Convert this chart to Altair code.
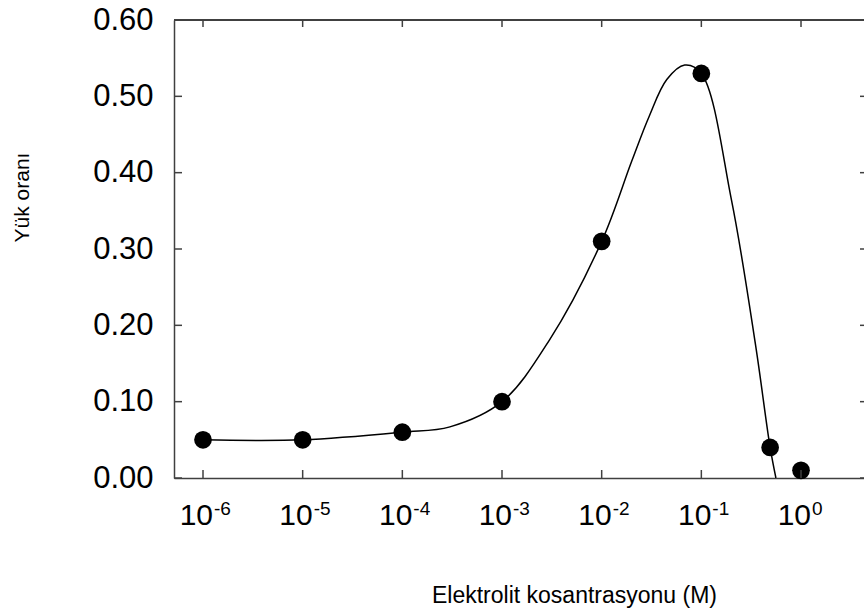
import altair as alt
import pandas as pd

# measured points
conc = [1e-6, 1e-5, 1e-4, 1e-3, 1e-2, 1e-1, 0.49, 1.0]
ratio = [0.05, 0.05, 0.06, 0.10, 0.31, 0.53, 0.04, 0.01]

# fitted curve
curve_x = [1e-6, 1e-5, 1e-4, 3e-4, 1e-3, 3e-3, 1e-2, 0.02, 0.03, 0.045, 0.068, 0.1,
           0.2, 0.35, 0.49, 0.56]
curve_y = [0.05, 0.05, 0.06, 0.067, 0.10, 0.181, 0.31, 0.415, 0.474, 0.522, 0.541, 0.53,
           0.365, 0.174, 0.04, 0.0]

xtick_vals = [1e-6, 1e-5, 1e-4, 1e-3, 1e-2, 1e-1, 1e0]
xtick_exp = ["-6", "-5", "-4", "-3", "-2", "-1", "0"]
ytick_vals = [0.0, 0.1, 0.2, 0.3, 0.4, 0.5, 0.6]

pts = pd.DataFrame({"c": conc, "r": ratio})
crv = pd.DataFrame({"c": curve_x, "r": curve_y})
xt = pd.DataFrame({"c": xtick_vals, "e": xtick_exp, "b": ["10"] * len(xtick_vals)})
yt = pd.DataFrame({"r": ytick_vals})

W, H = 690, 458
FONT = "Liberation Sans"
AX = "#404040"

xscale = alt.Scale(type="log", domain=[10 ** -6.291, 10 ** 0.632], nice=False)
yscale = alt.Scale(domain=[0, 0.6], nice=False, zero=False)

xenc = alt.X("c:Q", scale=xscale, axis=alt.Axis(
    title="Elektrolit kosantrasyonu (M)", labels=False, ticks=False, tickSize=0,
    grid=False, domainColor=AX, domainWidth=1.5,
    titleFont=FONT, titleFontSize=23, titleFontWeight="normal", titleColor="black",
    titleX=400, titleY=124, titleAnchor="middle", titleAlign="center",
    titleBaseline="alphabetic"))
yenc = alt.Y("r:Q", scale=yscale, axis=alt.Axis(
    title="Yük oranı", values=ytick_vals, format=".2f", ticks=False, tickSize=0,
    labelPadding=21, labelFont=FONT, labelFontSize=31, labelColor="black",
    grid=False, domainColor=AX, domainWidth=1.5,
    titleFont=FONT, titleFontSize=21, titleFontWeight="normal", titleColor="black",
    titleX=-152, titleY=177, titleAngle=270, titleAlign="center",
    titleBaseline="middle"))

line = alt.Chart(crv).mark_line(color="black", strokeWidth=1.5,
                                interpolate="catmull-rom", clip=True).encode(x=xenc, y=yenc)
dots = alt.Chart(pts).mark_circle(color="black", size=314, opacity=1).encode(
    x=alt.X("c:Q", scale=xscale), y=alt.Y("r:Q", scale=yscale))

top_line = alt.Chart(pts).mark_rule(color=AX, strokeWidth=1.5).encode(
    x=alt.value(0), x2=alt.value(W), y=alt.value(0))

bt = alt.Chart(xt).mark_rule(color=AX, strokeWidth=1.5).encode(
    x=alt.X("c:Q", scale=xscale), y=alt.value(H - 8), y2=alt.value(H))
tt = alt.Chart(xt).mark_rule(color=AX, strokeWidth=1.5).encode(
    x=alt.X("c:Q", scale=xscale), y=alt.value(0), y2=alt.value(7))
lt = alt.Chart(yt).mark_rule(color=AX, strokeWidth=1.5).encode(
    y=alt.Y("r:Q", scale=yscale), x=alt.value(0), x2=alt.value(8))
rt = alt.Chart(yt).mark_rule(color=AX, strokeWidth=1.5).encode(
    y=alt.Y("r:Q", scale=yscale), x=alt.value(W - 4), x2=alt.value(W + 4))

base_lbl = alt.Chart(xt).mark_text(font=FONT, fontSize=30, align="right",
                                   baseline="alphabetic", dx=10, color="black").encode(
    x=alt.X("c:Q", scale=xscale), y=alt.value(H + 47), text="b:N")
exp_lbl = alt.Chart(xt).mark_text(font=FONT, fontSize=19, align="left",
                                  baseline="alphabetic", dx=11, color="black").encode(
    x=alt.X("c:Q", scale=xscale), y=alt.value(H + 37), text="e:N")

chart = alt.layer(line, dots, top_line, bt, tt, lt, rt, base_lbl, exp_lbl).properties(
    width=W, height=H,
    autosize=alt.AutoSizeParams(type="none"),
    padding={"left": 174, "top": 20, "right": 0, "bottom": 130},
).configure_view(stroke=None).configure(background="white")

chart.save("out.html", embed_options={"renderer": "svg", "actions": False})
